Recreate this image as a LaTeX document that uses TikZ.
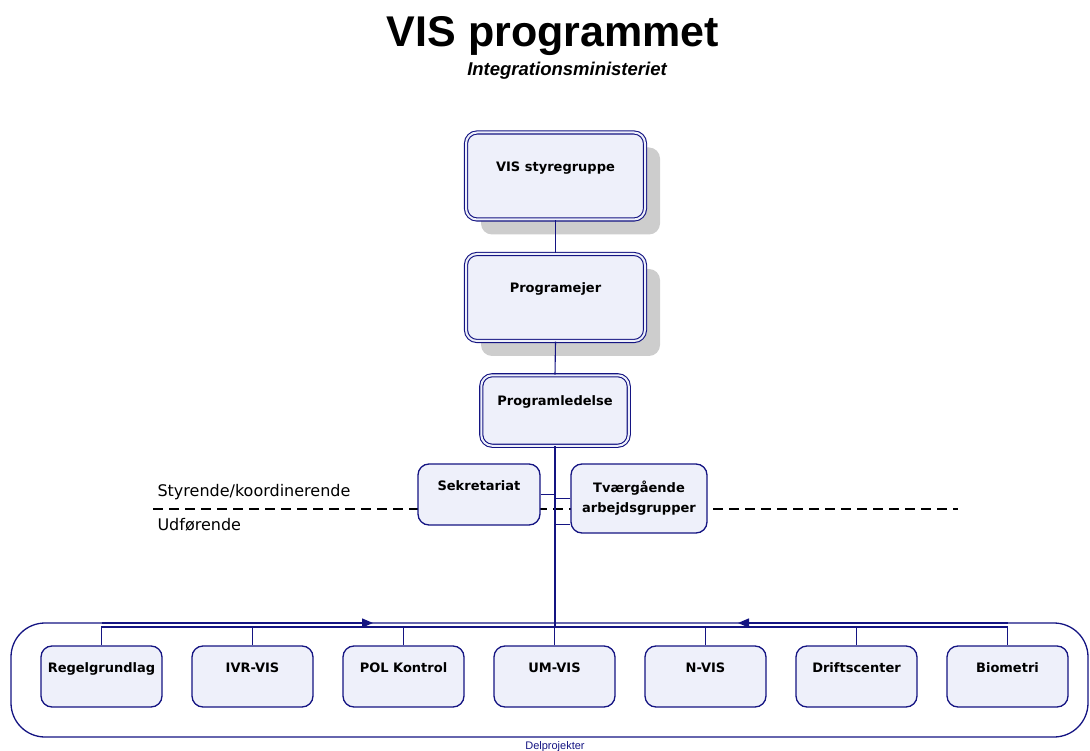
\documentclass[tikz,border=0pt]{standalone}
\usepackage{fontspec}
\setmainfont{DejaVu Sans}
\newfontfamily\arialfont{Liberation Sans}
\usetikzlibrary{arrows.meta,shadows}
\definecolor{visnavy}{RGB}{20,20,130}
\definecolor{visfill}{RGB}{238,240,250}
\definecolor{visshadow}{RGB}{205,205,205}

\begin{document}
\begin{tikzpicture}
  [x=1pt,y=-1pt,
   box/.style={draw=visnavy,line width=1.3pt,fill=visfill,rounded corners=11pt,inner sep=0pt,
     font=\bfseries\fontsize{13}{20}\selectfont},
   oneline/.style={text height=10pt,text depth=19pt},
   topbox/.style={box,oneline,double=visfill,double distance=2pt,line width=1.1pt},
   shadowed/.style={drop shadow={shadow xshift=15pt,shadow yshift=-15pt,fill=visshadow,opacity=1}},
   conn/.style={draw=visnavy,line width=1.1pt},
   arrow/.style={conn,line width=1.4pt,-{Triangle[length=11pt,width=9pt]}},
   side/.style={anchor=base west,font=\fontsize{16}{16}\selectfont}]
  \useasboundingbox (0,0) rectangle (1090,751);

  \node[font=\arialfont\bfseries\fontsize{43}{43}\selectfont,anchor=base] (title) at (553,47) {VIS programmet};
  \node[font=\arialfont\bfseries\itshape\fontsize{18.5}{18.5}\selectfont,anchor=base] (subtitle) at (567,76) {Integrationsministeriet};

  \coordinate (divl) at (153,509);
  \coordinate (divr) at (958,509);
  \draw[line width=2.6pt,dash pattern=on 10pt off 6pt] (divl) -- (divr);
  \node[side] (styrende) at (154,496) {Styrende/koordinerende};
  \node[side] (udfoerende) at (154,530) {Udførende};

  \node[draw=visnavy,line width=1.3pt,rounded corners=34pt,minimum width=1077pt,minimum height=114pt] (delprj) at (549.5,680) {};
  \node[font=\arialfont\fontsize{11}{11}\selectfont,text=visnavy,anchor=base] (delprjtxt) at (555,749) {Delprojekter};

  \node[topbox,shadowed,minimum width=179pt,minimum height=87pt] (styr) at (555.5,176) {VIS styregruppe};
  \node[topbox,shadowed,minimum width=179pt,minimum height=87pt] (ejer) at (555.5,297.5) {Programejer};
  \node[topbox,minimum width=147.5pt,minimum height=70.5pt] (ledelse) at (555,410.5) {Programledelse};
  \node[box,oneline,minimum width=122pt,minimum height=61pt] (sekr) at (479,494.5) {Sekretariat};
  \node[box,align=center,minimum width=136pt,minimum height=69pt] (tvaer) at (639,498.5) {Tværgående\\arbejdsgrupper};

  \foreach \name/\txt [count=\i from 0] in {regel/Regelgrundlag,ivr/IVR-VIS,pol/POL Kontrol,um/UM-VIS,
  nvis/N-VIS,drift/Driftscenter,bio/Biometri}
    \node[box,oneline,minimum width=121pt,minimum height=61pt] (\name) at (101.5+151*\i,676.5) {\txt};

  \coordinate (busmid) at (555,627);
  \coordinate (arrowl) at (373,623);
  \coordinate (arrowr) at (738,623);
  \coordinate (tvlow) at ([yshift=9pt]tvaer.south west);

  \foreach \from/\to in {styr/ejer,ejer/ledelse}
    \draw[conn] (\from.south) -- (\to.north);
  \draw[conn] (sekr.east) -- (sekr.east -| ledelse.south);
  \draw[conn] (tvaer.west) -- (tvaer.west -| ledelse.south);
  \draw[conn] (tvlow) -- (tvlow -| ledelse.south);
  \draw[conn,line width=2.4pt] (ledelse.south) -- (busmid);
  \draw[conn] (regel.north) -- (regel.north |- busmid) -- (bio.north |- busmid) -- (bio.north);
  \foreach \name in {ivr,pol,um,nvis,drift}
    \draw[conn] (\name.north) -- (\name.north |- busmid);
  \draw[arrow] (regel.north |- arrowl) -- (arrowl);
  \draw[arrow] (bio.north |- arrowr) -- (arrowr);

\end{tikzpicture}
\end{document}
